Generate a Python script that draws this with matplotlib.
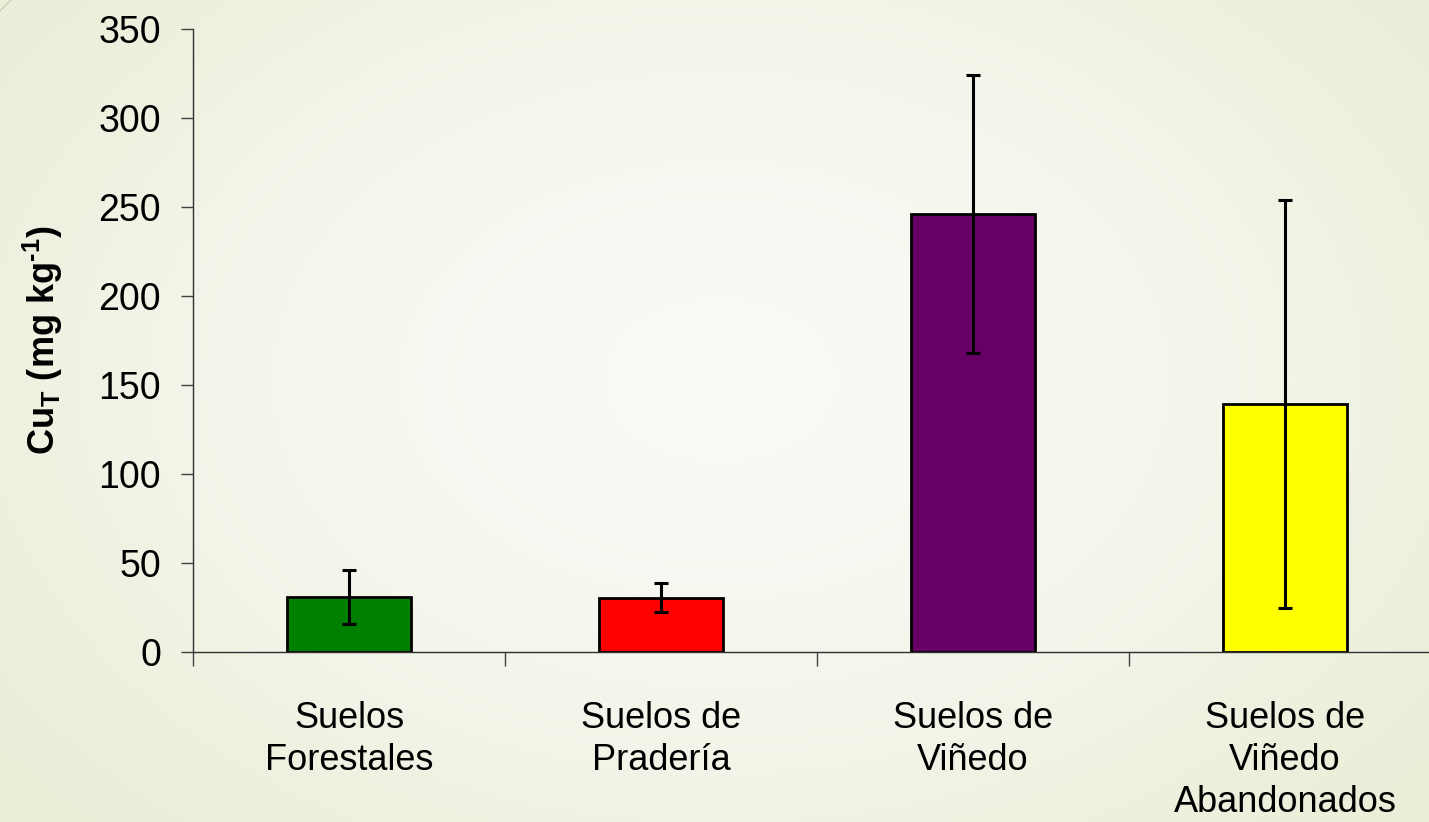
import numpy as np
import matplotlib.pyplot as plt
from matplotlib.colors import LinearSegmentedColormap

plt.rcParams['font.family'] = ['Liberation Sans', 'DejaVu Sans']
plt.rcParams['mathtext.fontset'] = 'custom'
plt.rcParams['mathtext.rm'] = 'Liberation Sans:bold'
plt.rcParams['mathtext.bf'] = 'Liberation Sans:bold'

# Copper totals per soil type (mean and standard deviation)
categories = ["Suelos\nForestales", "Suelos de\nPradería", "Suelos de\nViñedo",
              "Suelos de\nViñedo\nAbandonados"]
cu_mean = [31.0, 30.5, 246.0, 139.3]
cu_sd = [15.0, 8.3, 78.0, 114.7]
bar_colors = ["#008000", "#FF0000", "#660066", "#FFFF00"]
y_ticks = [0, 50, 100, 150, 200, 250, 300, 350]

W, H, DPI = 1429, 822, 100
fig = plt.figure(figsize=(W / DPI, H / DPI), dpi=DPI)

# soft radial background, light in the middle, pale green towards the edges
bg = fig.add_axes([0, 0, 1, 1], zorder=-10)
yy, xx = np.mgrid[0:H, 0:W]
r = np.sqrt(((xx - 720) / 900.0) ** 2 + ((yy - 380) / 620.0) ** 2)
r = np.clip(r, 0, 1)
cmap = LinearSegmentedColormap.from_list("bg", ["#fbfbf8", "#f4f6ec", "#e9efd8"])
bg.imshow(r, cmap=cmap, aspect="auto", extent=[0, W, H, 0], vmin=0, vmax=1)
bg.plot([0, 11], [11, 0], color="#c8ccbc", lw=0.8)
bg.set_xlim(0, W)
bg.set_ylim(H, 0)
bg.axis("off")

ax = fig.add_axes([193 / W, 170 / H, 1248 / W, 623 / H])
ax.patch.set_alpha(0)

x = np.arange(len(categories)) + 0.5
ax.bar(x, cu_mean, width=0.4, color=bar_colors, edgecolor="black", linewidth=2,
       zorder=2)
ax.errorbar(x, cu_mean, yerr=cu_sd, fmt="none", ecolor="black", elinewidth=2.2,
            capsize=5, capthick=2.2, zorder=3)

ax.set_xlim(0, 4)
ax.set_ylim(0, 350)
ax.set_yticks(y_ticks)
ax.set_xticks(np.arange(0, 5))
ax.set_xticklabels([])
ax.set_xticks(x, minor=True)
ax.set_xticklabels(categories, minor=True, fontsize=26, linespacing=1.27)

ax.tick_params(axis="y", which="major", direction="out", length=9, width=1,
               labelsize=27, pad=14, color="#404040")
ax.tick_params(axis="x", which="major", direction="out", length=10, width=1,
               color="#404040")
ax.tick_params(axis="x", which="minor", length=0, pad=35)

for side in ("top", "right"):
    ax.spines[side].set_visible(False)
for side in ("left", "bottom"):
    ax.spines[side].set_color("#303030")
    ax.spines[side].set_linewidth(1)

ax.set_ylabel(r"Cu$_{\mathrm{T}}$ (mg kg$^{\text{-1}}$)", fontsize=26,
              fontweight="bold", labelpad=24)

fig.savefig("out.png", dpi=DPI)
